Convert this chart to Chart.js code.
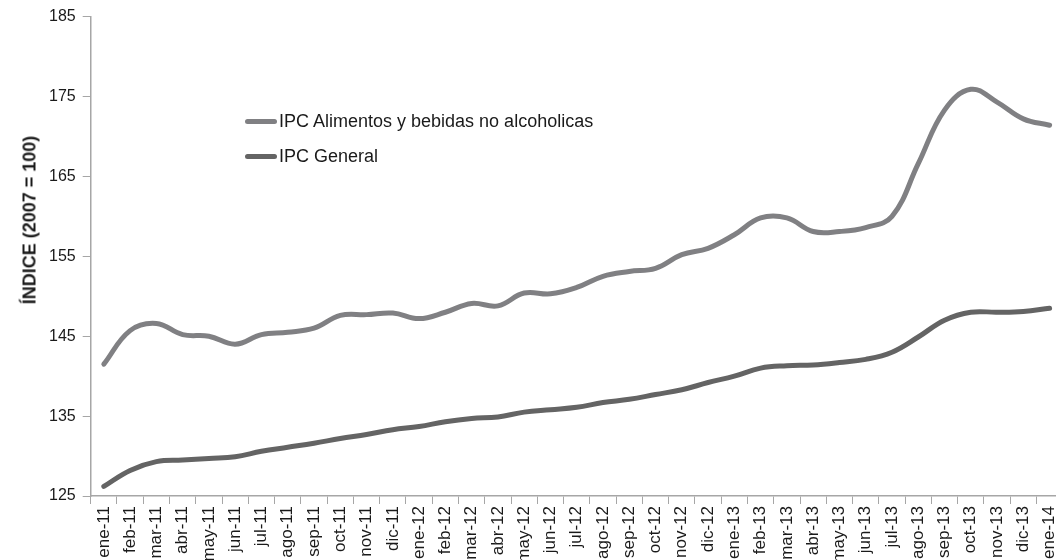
<!DOCTYPE html>
<html>
<head>
<meta charset="utf-8">
<script src="https://cdn.jsdelivr.net/npm/chart.js@4"></script>
<style>
  body { margin: 0; background: #fff; overflow: hidden; }
  #caja { position: relative; width: 1072px; height: 560px; }
  .leyenda { position: absolute; left: 245px; top: 104px; font: 18px "Liberation Sans", Arial, sans-serif; color: #1a1a1a; }
  .leyenda div { height: 35px; display: flex; align-items: center; }
  .leyenda span.linea { display: inline-block; width: 32px; height: 5px; border-radius: 3px; margin-right: 2px; }
  .tituloY { position: absolute; left: 30px; top: 220px; transform: translate(-50%, -50%) rotate(-90deg);
    white-space: nowrap; font: bold 18px "Liberation Sans", Arial, sans-serif; color: #1a1a1a; }
</style>
</head>
<body>
<div id="caja">
  <canvas id="graficoIpc" width="1072" height="560"></canvas>
  <div class="tituloY" id="tituloY"></div>
  <div class="leyenda" id="leyenda"></div>
</div>
<script>
const meses = ['ene-11','feb-11','mar-11','abr-11','may-11','jun-11','jul-11','ago-11','sep-11','oct-11','nov-11','dic-11',
  'ene-12','feb-12','mar-12','abr-12','may-12','jun-12','jul-12','ago-12','sep-12','oct-12','nov-12','dic-12',
  'ene-13','feb-13','mar-13','abr-13','may-13','jun-13','jul-13','ago-13','sep-13','oct-13','nov-13','dic-13','ene-14'];

const ipcAlimentos = [141.5, 145.7, 146.6, 145.2, 145.0, 144.0, 145.2, 145.5, 146.0, 147.6, 147.7, 147.9,
  147.2, 148.0, 149.1, 148.8, 150.4, 150.3, 151.1, 152.5, 153.1, 153.5, 155.2, 156.0,
  157.7, 159.8, 159.8, 158.1, 158.1, 158.6, 160.0, 166.6, 173.3, 175.9, 174.3, 172.2, 171.4];

const ipcGeneral = [126.2, 128.2, 129.3, 129.5, 129.7, 129.9, 130.6, 131.1, 131.6, 132.2, 132.7, 133.3,
  133.7, 134.3, 134.7, 134.9, 135.5, 135.8, 136.1, 136.7, 137.1, 137.7, 138.3, 139.2,
  140.0, 141.0, 141.3, 141.4, 141.7, 142.1, 143.0, 144.9, 147.0, 148.0, 148.0, 148.1, 148.5];

const ticksY = [125, 135, 145, 155, 165, 175, 185];
const tituloEjeY = 'ÍNDICE (2007 = 100)';

const fuente = '"Liberation Sans", Arial, sans-serif';
const colorAlimentos = '#808083';
const colorGeneral = '#646464';
const colorEje = '#a6a6a6';

const ctx = document.getElementById('graficoIpc');
const graficoIpc = new Chart(ctx, {
    type: 'line',
    data: {
        labels: meses,
        datasets: [{
            label: 'IPC Alimentos y bebidas no alcoholicas',
            data: ipcAlimentos,
            borderColor: colorAlimentos,
            borderWidth: 5,
            pointRadius: 0,
            tension: 0.4,
            borderCapStyle: 'round'
        }, {
            label: 'IPC General',
            data: ipcGeneral,
            borderColor: colorGeneral,
            borderWidth: 5,
            pointRadius: 0,
            tension: 0.4,
            borderCapStyle: 'round'
        }]
    },
    options: {
        responsive: false,
        animation: false,
        layout: { padding: { top: 12, left: 42, right: 0, bottom: 0 } },
        plugins: { legend: { display: false }, tooltip: { enabled: false } },
        scales: {
            x: {
                offset: true,
                grid: { offset: true, drawOnChartArea: false, tickLength: 8, color: colorEje },
                border: { color: colorEje, width: 1.5 },
                ticks: { minRotation: 90, maxRotation: 90, autoSkip: false, color: '#1a1a1a', padding: 2,
                    font: { family: fuente, size: 17 } },
                afterFit(scale) { scale.height = 64; }
            },
            y: {
                min: 125, max: 185,
                afterBuildTicks(scale) { scale.ticks = ticksY.map(v => ({ value: v })); },
                grid: { drawOnChartArea: false, tickLength: 8, color: colorEje },
                border: { color: colorEje, width: 1.5 },
                ticks: { color: '#1a1a1a', padding: 7, font: { family: fuente, size: 16 } }
            }
        }
    }
});

document.getElementById('tituloY').textContent = tituloEjeY;

// leyenda dentro del área del gráfico
const leyenda = document.getElementById('leyenda');
graficoIpc.data.datasets.forEach((dataset) => {
    let fila = document.createElement('div');
    fila.innerHTML = '<span class="linea" style="background:' + dataset.borderColor + '"></span>' + dataset.label;
    leyenda.appendChild(fila);
});
</script>
</body>
</html>
